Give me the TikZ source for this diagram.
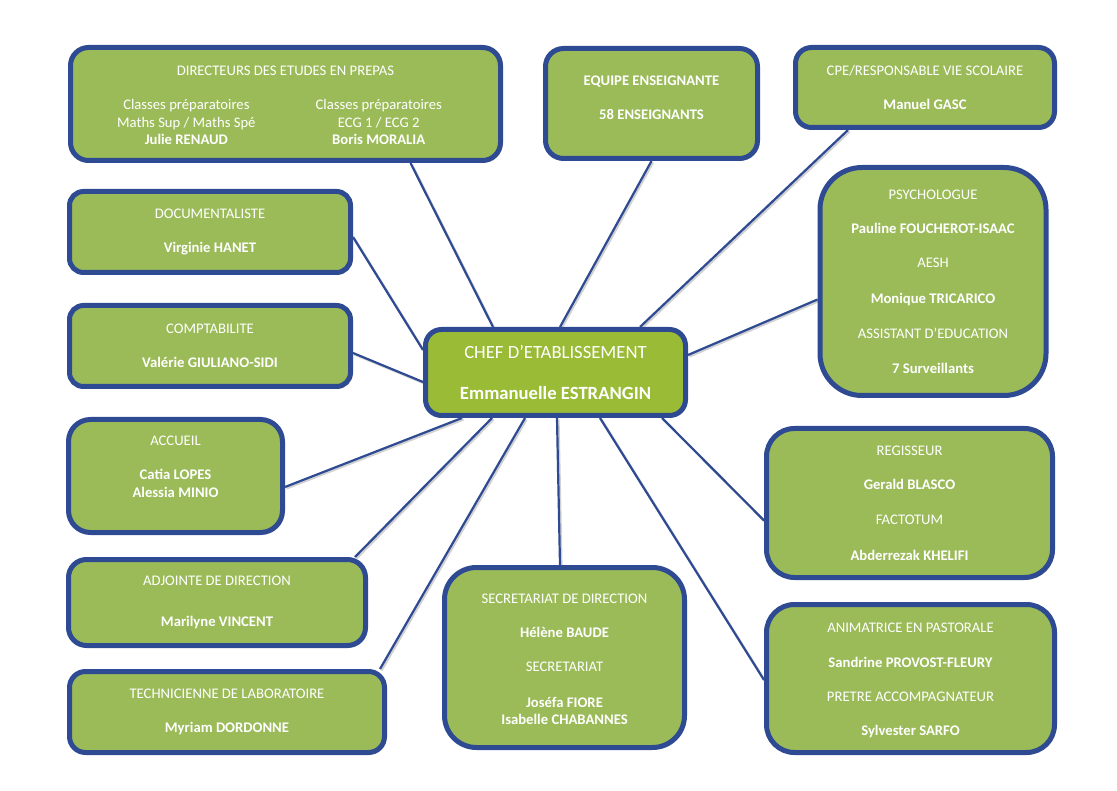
\documentclass[tikz,border=0pt]{standalone}
\usepackage{fontspec}
\setmainfont{Carlito}
\usetikzlibrary{shadows,backgrounds}

\definecolor{boxgreen}{HTML}{9BBB59}
\definecolor{chefgreen}{HTML}{9ABB35}
\definecolor{boxblue}{HTML}{2E4A92}
\newcommand{\lift}[1]{\rule[-#1]{0pt}{#1}}
\newcommand{\sink}[1]{\rule{0pt}{#1}}

\begin{document}
\begin{tikzpicture}[x=1pt,y=-1pt,
  box/.style={draw=boxblue,line width=5pt,fill=boxgreen,text=white,align=center,inner sep=0pt,
    font=\fontsize{14.67}{17.6}\selectfont,
    drop shadow={shadow xshift=2pt,shadow yshift=-2pt,fill=black,opacity=0.18}},
  link/.style={draw=boxblue,line width=2.2pt,
    preaction={draw=black!18,line width=2.2pt,transform canvas={shift={(1.5pt,-1.5pt)}}}}]

\useasboundingbox (0,0) rectangle (1117,791);

% Top row.
\node[box,rounded corners=18pt,minimum width=430pt,minimum height=113pt] (dirprep) at (285.5,104)
  {\begin{tabular}{@{}c@{\hspace{60pt}}c@{\hspace{12pt}}}
   \multicolumn{2}{@{}c@{}}{\sink{17.5pt}DIRECTEURS DES ETUDES EN PREPAS}\\[16.5pt]
   Classes préparatoires & Classes préparatoires\\
   Maths Sup / Maths Spé & ECG 1 / ECG 2\\
   \textbf{Julie RENAUD} & \textbf{Boris MORALIA}
   \end{tabular}};
\node[box,rounded corners=18pt,minimum width=212pt,minimum height=110pt] (equipe) at (651.5,103.5)
  {\textbf{EQUIPE ENSEIGNANTE}\\[16.5pt]\textbf{58 ENSEIGNANTS}\lift{12pt}};
\node[box,rounded corners=16pt,minimum width=259pt,minimum height=80pt] (cpe) at (925,87.5)
  {CPE/RESPONSABLE VIE SCOLAIRE\\[16.5pt]\textbf{Manuel GASC}};

% Left column.
\node[box,rounded corners=14pt,minimum width=281pt,minimum height=81pt] (doc) at (210,232)
  {DOCUMENTALISTE\\[16.5pt]\textbf{Virginie HANET}};
\node[box,rounded corners=14pt,minimum width=281pt,minimum height=81pt] (compta) at (210,346)
  {COMPTABILITE\\[16.5pt]\textbf{Valérie GIULIANO-SIDI}};
\node[box,rounded corners=22pt,minimum width=214pt,minimum height=113pt] (accueil) at (175.5,476)
  {ACCUEIL\\[16.5pt]\textbf{Catia LOPES}\\\textbf{Alessia MINIO}\lift{19pt}};
\node[box,rounded corners=18pt,minimum width=297pt,minimum height=86pt] (adjointe) at (217,602.5)
  {ADJOINTE DE DIRECTION\\[23pt]\textbf{Marilyne VINCENT}};
\node[box,rounded corners=16pt,minimum width=315pt,minimum height=81pt] (techlab) at (227,712)
  {TECHNICIENNE DE LABORATOIRE\\[16.5pt]\textbf{Myriam DORDONNE}};

% Centre and bottom.
\node[box,fill=chefgreen,rounded corners=16pt,minimum width=260pt,minimum height=86pt,
  font=\fontsize{18.67}{22.4}\selectfont] (chef) at (555.5,372.5)
  {CHEF D’ETABLISSEMENT\\[18pt]\textbf{Emmanuelle ESTRANGIN}};
\node[box,rounded corners=32pt,minimum width=240pt,minimum height=180pt] (secdir) at (564.5,657.5)
  {\sink{13.5pt}SECRETARIAT DE DIRECTION\\[16.5pt]\textbf{Hélène BAUDE}\\[16.5pt]SECRETARIAT\\[18pt]
   \textbf{Joséfa FIORE}\\\textbf{Isabelle CHABANNES}};

% Right column.
\node[box,rounded corners=42pt,minimum width=226pt,minimum height=228pt] (psy) at (933,281.5)
  {PSYCHOLOGUE\\[16.8pt]\textbf{Pauline FOUCHEROT-ISAAC}\\[16.8pt]AESH\\[17.5pt]
   \textbf{Monique TRICARICO}\\[17.5pt]ASSISTANT D’EDUCATION\\[17.5pt]\textbf{7 Surveillants}};
\node[box,rounded corners=28pt,minimum width=286pt,minimum height=149pt] (regis) at (909.5,503)
  {REGISSEUR\\[16.5pt]\textbf{Gerald BLASCO}\\[18pt]FACTOTUM\\[18pt]\textbf{Abderrezak KHELIFI}};
\node[box,rounded corners=28pt,minimum width=288pt,minimum height=148pt] (pasto) at (910.5,678.5)
  {\sink{13.5pt}ANIMATRICE EN PASTORALE\\[16.5pt]\textbf{Sandrine PROVOST-FLEURY}\\[16.5pt]
   PRETRE ACCOMPAGNATEUR\\[16.5pt]\textbf{Sylvester SARFO}};

% Links to the head of the school.
\begin{pgfonlayer}{background}
\draw[link] ([xshift=342.5pt]dirprep.south west) -- ([xshift=-62.5pt]chef.north);
\draw[link] (equipe.south) -- ([xshift=4.5pt]chef.north);
\draw[link] ([xshift=-77pt]cpe.south) -- ([xshift=84.5pt]chef.north);
\draw[link] ([yshift=-18pt]psy.west) -- ([yshift=17.5pt]chef.east);
\draw[link] ([yshift=-5pt]doc.east) -- ([yshift=22.5pt]chef.west);
\draw[link] ([yshift=-7pt]compta.east) -- ([yshift=-9.5pt]chef.west);
\draw[link] ([yshift=-11pt]accueil.east) -- ([xshift=-93.5pt]chef.south);
\draw[link] ([xshift=138pt]adjointe.north) -- ([xshift=-63.5pt]chef.south);
\draw[link] ([xshift=153pt]techlab.north) -- ([xshift=-30.5pt]chef.south);
\draw[link] ([xshift=-4.5pt]secdir.north) -- ([xshift=1.5pt]chef.south);
\draw[link] ([yshift=-1.5pt]pasto.west) -- ([xshift=44.5pt]chef.south);
\draw[link] ([yshift=-17.5pt]regis.west) -- ([xshift=106.5pt]chef.south);
\end{pgfonlayer}
\end{tikzpicture}
\end{document}
